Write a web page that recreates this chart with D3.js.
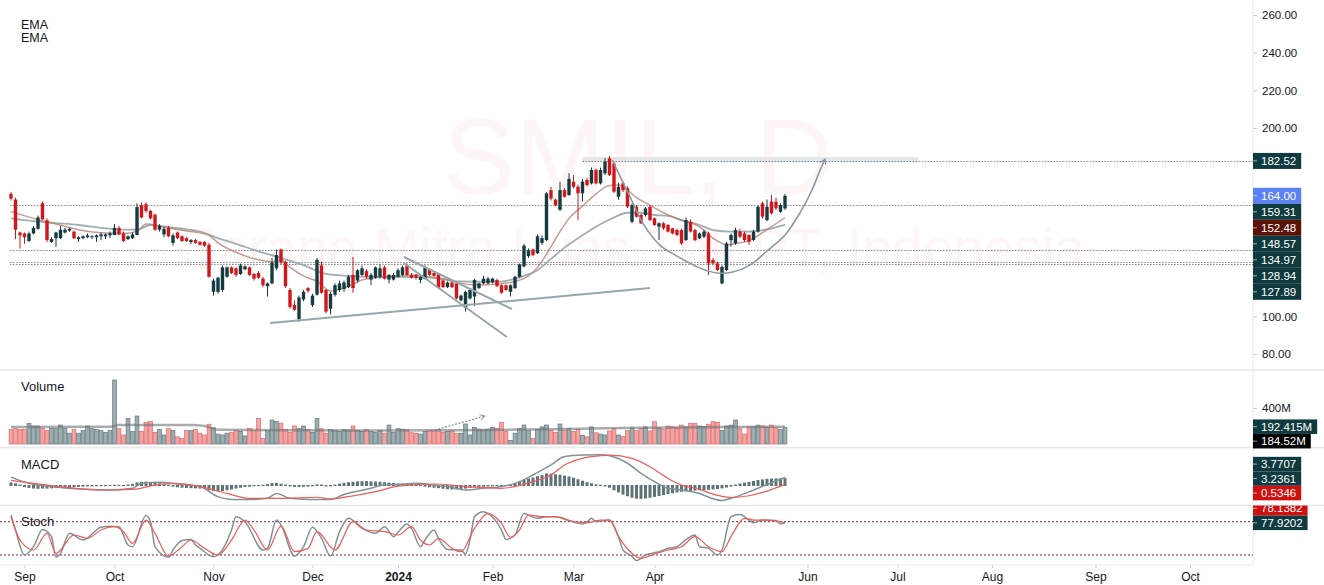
<!DOCTYPE html>
<html>
<head>
<meta charset="utf-8">
<script src="https://cdn.jsdelivr.net/npm/d3@7"></script>
<style>
body{margin:0;background:#fff;}
svg{display:block;font-family:"Liberation Sans",Arial,sans-serif;}
</style>
</head>
<body>
<div id="chart"></div>
<script>
// daily candles, bar index 0 = 29 Aug 2023
const opens = [165,162,144.5,144,140,144,146.5,160,151,139.5, 141.5,141.5,144.5,145.5,145,141,141.5,142,142,142,
 142.5,142.5,143,143.2,147,144,141,141.5,143.2,159, 159.5,156,154,146,143.5,147,139,144.5,142.5,141.5,
 139.5,140.5,139.5,139.5,138,113,113,114,121,126, 125.5,122.5,125,126,122.5,123,120,116,117.5,125.5,
 135.5,129,114,106,98.5,109,115,106,111.5,127, 114,104,111.5,114,114.5,115.5,122,119,122,124,
 119.5,120.5,121,126,119.5,119.5,121,122,127,122, 122,119.3,120,125,123,122.5,119,115.5,118,117.5,
 108.5,104.5,109.5,110.5,115,117.5,117.5,118,119.3,116.5, 116.5,113,115,121,126.5,132,135.5,133.5,139,140.5,
 167,162,156.5,167,164.4,171.5,168.8,165.3,172.4,170.6, 177.7,170.6,175.9,183.9,181.2,163.5,170.6,168,150.2,158.2,
 153.8,153.8,158.2,152,147.6,149.4,148.5,146.7,145.8,145.8, 140.5,150.2,145.8,141.4,142.3,144,129.9,128.1,117.5,124.6,
 140.5,138.7,145,144,143.2,140.5,145,160,151.1,160.9, 160.9,155.5,157.3]
const highs = [166,163,145,144.5,145,148,153.5,161,152,142, 145,148,147,147,145.5,142.5,143,144,143,143.5,
 144.5,144,145,149,148,145,143,144.5,160,160.5, 160.5,156.5,154.5,149,147.5,148,144,145,143,142,
 141,141,140,140,139,120,121,127,126.5,126.5, 126,128,127,126.5,123,124,121,118,131,135.5,
 136,129.5,115,108.5,111,114,115.5,112,131,129, 114.5,113,117.5,119,119,122,131.5,125,127,125,
 123,126.5,127.5,127,122.5,123,125.5,127,128,123, 122.5,121.5,127,125.5,123.5,123,119.5,118.5,118.5,118,
 111.5,113.5,114.5,120,118,121.5,121,120.5,120,117, 117,117,121.5,128,138.5,136,136,143.5,143,166,
 168.8,162.5,171.5,168,176,175,170,173,173.5,179, 178.5,179,184,185.1,182,171,171.5,169,160,159,
 154.5,158,159,152.5,150,150,149,147,146.5,146.5, 152.5,151.5,146.5,144.5,146,145,131,129,127,139.5,
 144,147,146.5,145,143.5,146,159,161,162,164.5, 163,160,165]
const lows = [161.5,141,136,138.5,139.5,143.5,146,151,139.5,139, 137,141,144,145,141,139.5,141,141.5,141,139.5,
 140.5,141,141.5,143,143,139.5,140.5,141,143,152, 155,151.5,145.5,145,142,142,137.5,141,139.5,139.5,
 138.5,138.5,137.5,137,120.5,111,112,113,120.5,122.5, 121,122,124.5,121.5,119,120,115.5,110.5,117,124.5,
 127.5,115,104,103,97,108,112.5,105,111,112, 101.5,101,110.5,113,113,115,112.5,118,121.5,120,
 116.5,120,120,119.5,117.5,119,120.5,121.5,121.5,120, 119.5,117.5,119.5,121.5,121,114.5,115,115,115,109,
 108,102.5,109,105.5,114.5,117,117,117.5,115.5,112, 113.5,110.5,114.5,120.5,126,131,132,133,138,140,
 161.5,158.5,156,163,164,168,151,161,169,170, 170,170,175,174.5,165.5,162,166,157.5,149.5,152.5,
 149,153,150.5,148,140.5,146,144.5,143.5,142.5,138, 140,144.5,140,141,141.5,121.9,127.5,124,117,124,
 137,138,141.5,139.5,138,140,144.5,152,150.5,154, 156.5,155,156.5]
const closes = [162.5,146,143,142,144,147,152.5,151.5,140.5,141, 144.5,146,146,146.5,141.5,142,142.5,143,142.5,143,
 143.5,143.5,144,147,143.5,140,142.5,143.5,158,152.5, 156,152,146,148,146.5,142.5,143,141.5,140,140,
 140.5,139,138,137.5,121,119,120.5,126,126,123, 122,127,126.5,122,120,120.5,116.5,117.5,128.5,132.5,
 128.5,116,105,103.5,110,113,113.5,111,130,112.5, 102.5,112,116.5,117.5,118,121,115,124.5,125.5,121,
 122,126,125.5,120,122,122,124.5,126,122,120.5, 120.5,121,126,122,121.5,115,115.5,118,115.5,109.5,
 111,113,114,119.3,117.5,120,120,120,116,112.5, 114,116.5,121,127.5,137.5,135,132.5,142.5,141.5,165.3,
 162.5,159,167,163.5,173,168.8,165.3,171.5,169.7,177.7, 170.6,177.7,182.1,175,166.2,168.8,167,158.2,159.1,152.9,
 149.4,157.3,151.1,148.5,149.4,146.7,145,144,143.2,138.7, 151.1,145,140.5,144,145,128.1,128.1,124.6,126.3,138.7,
 143.2,145.8,142.3,140.5,139.6,145,158.2,152.9,158.2,154.7, 157.3,159.1,164]
// volume in millions
const volumes = [160,170,160,165,230,200,200,175,150,175, 170,211,175,120,160,120,150,200,170,160,
 150,130,150,711,170,100,285,140,311,140, 240,250,130,160,100,170,150,80,60,150,
 150,160,120,100,220,180,110,100,120,130, 150,140,90,175,150,285,60,150,267,250,
 230,160,130,200,170,200,160,130,285,170, 120,160,150,140,160,155,200,150,140,160,
 140,130,150,120,211,130,170,165,160,125, 120,110,140,150,150,160,130,140,145,120,
 120,222,100,185,165,155,165,185,175,241, 140,40,120,170,211,150,60,160,190,211,
 150,130,222,150,170,140,160,95,80,190, 125,110,100,145,170,100,85,150,180,150,
 170,190,145,248,180,160,200,190,180,210, 190,230,230,200,195,220,250,240,150,200,
 210,267,170,110,190,190,210,200,185,210, 180,160,184.52]

const emaFastIdx = [0,5,10,15,20,25,28,30,33,36,40,44,46,50,55,58,60,62,65,68,71,75,78,82,86,90,93,97,100,104,108,112,115,117,120,122,124,127,130,133,135,137,139,142,145,149,153,156,159,161,164,168,172]
const emaFast = [155.6,152,149,146,144.4,144,145,149,148,146.5,145,143,139,134,130,129,129.9,126,121.5,118.5,113.5,116,119.3,120.7,121.4,121.9,121,119.6,117.5,116.6,117.2,118.5,121.5,126,137,145,152,158.5,165,169.5,169.7,167,163,159,155,151,147.6,141.5,138,138.7,140.2,146,152.48]
const emaSlowIdx = [0,5,10,15,20,25,28,31,34,38,42,46,50,55,60,65,70,75,80,86,93,100,104,108,111,114,117,120,123,126,130,134,137,140,143,146,149,153,156,160,164,168,172]
const emaSlow = [152,150.5,149.5,148.5,147,146,146,148.5,147.6,146.5,145,141.5,138.5,134.5,131,127.2,122.5,121.5,121,121,120.5,118.5,118.4,118.4,119.3,121.5,124.5,130.5,136.5,141.5,147.6,152.5,155,155,153.8,153.3,151.1,148.5,145.8,145,145,146.2,148.57]

const volMaIdx = [0,22,24,40,43,46,60,80,100,120,140,160,172]
const volMa = [190,192,210,210,200,158,152,150,152,165,180,190,192.415]

const macdIdx = [0,4,9,16,22,27,29,33,37,42,46,49,54,57,59,62,66,71,74,79,83,86,90,94,97,101,105,109,112,116,120,123,127,131,133,137,140,143,146,149,153,156,158,160,164,168,172]
const macdLine = [3.9,1.0,-0.5,-1.8,-2.1,-1.3,1.0,1.5,0.7,-0.5,-5.2,-6.5,-6.5,-6.0,-3.7,-6.0,-6.5,-6.5,-4.2,-1.8,0.2,0.5,1.0,0.2,-0.5,-2.1,-1.3,-0.5,1.0,4.9,9.6,13.5,14.3,14.4,13.9,10.4,5.7,1.8,-1.3,-2.1,-3.7,-6.2,-7.0,-6.0,-3.0,0.5,3.7707]
const signalIdx = [0,5,12,20,27,32,36,42,48,53,60,68,71,75,81,86,94,101,109,116,120,123,127,131,133,138,142,146,149,153,157,160,164,168,172]
const signalLine = [2.4,1.0,-0.8,-2.1,-1.8,0.2,1.0,-0.5,-3.7,-6.0,-6.0,-5.5,-6.3,-5.2,-2.9,-0.3,0.7,-0.5,-1.3,1.8,4.9,9.6,12.7,13.9,14.2,12.7,8.8,3.3,0.2,-1.8,-4.6,-5.6,-4.8,-2.6,0.5346]
const macdHist = [1.2,0.8,0.2,-0.5,-0.9,-1.2,-1.3,-1.2,-1.2,-1.1, -1.0,-0.9,-0.7,-0.6,-0.5,-0.4,-0.3,-0.2,-0.2,-0.1,
 -0.1,-0.1,0.0,0.1,0.1,0.0,0.2,0.5,1.2,1.5, 1.6,1.4,1.1,0.8,0.4,0.1,-0.3,-0.6,-0.8,-0.9,
 -1.0,-1.1,-1.2,-1.4,-2.0,-2.4,-2.6,-2.4,-2.0,-1.6, -1.2,-0.8,-0.5,-0.3,-0.1,0.0,0.1,0.4,0.9,1.0,
 0.6,0.2,-0.2,-0.4,-0.5,-0.4,-0.3,-0.1,0.3,0.2, -0.2,-0.2,0.2,0.6,1.0,1.3,1.5,1.7,1.8,1.8,
 1.7,1.6,1.5,1.3,1.1,0.9,0.7,0.6,0.5,0.4, 0.2,0.0,-0.3,-0.6,-0.8,-1.0,-1.3,-1.5,-1.6,-1.6,
 -1.5,-1.2,-0.9,-0.6,-0.4,-0.3,-0.2,-0.1,0.0,-0.1, 0.0,0.3,0.8,1.5,2.4,3.0,3.5,4.1,4.7,5.4,
 5.3,5.0,4.8,4.4,4.0,3.4,2.7,2.0,1.3,0.8, 0.3,0.1,-0.2,-0.8,-2.0,-3.0,-4.0,-4.8,-5.5,-5.9,
 -6.0,-5.8,-5.5,-5.1,-4.7,-4.2,-3.8,-3.4,-3.0,-2.7, -2.5,-2.3,-2.1,-2.0,-1.9,-1.8,-1.6,-1.4,-1.1,-0.7,
 -0.3,0.2,0.7,1.1,1.5,1.9,2.3,2.6,2.9,3.0, 3.1,3.2,3.2361]

const stochKIdx = [0,1,3,5,7,9,10,11,13,16,20,22,24,26,27,30,31,32,35,36,38,40,41,42,45,46,49,50,52,56,57,59,60,63,65,67,69,71,73,75,78,81,83,85,86,
 88,89,91,92,94,95,97,100,101,102,103,105,106,109,110,112,114,115,117,119,121,124,127,128,129,130,133,135,136,138,139,141,144,146,148,150,152,153,155,157,158,160,162,164,165,167,170,171,172]
const stochK = [92,65,20,35,66,53,16,23,59,47,70,72,71,38,35,91,80,35,16,29,46,48,38,32,17,20,65,89,80,29,32,83,74,18,35,70,50,18,62,86,68,59,71,53,61,
 76,68,35,47,65,50,30,29,22,47,89,98,95,65,48,56,95,92,86,89,89,82,76,80,86,80,83,53,29,18,10,20,26,32,35,48,56,35,32,20,29,89,93,83,78,83,82,76,77.9202]
const stochDIdx = [0,2,5,8,10,14,17,20,23,25,27,30,32,35,38,40,43,46,49,52,54,57,60,63,66,68,72,76,79,83,86,89,91,93,95,98,100,103,106,109,111,113,115,118,121,125,128,131,133,135,138,140,143,146,149,152,155,158,160,163,165,168,172]
const stochD = [89,47,29,59,23,56,50,65,71,62,41,83,59,18,35,47,32,20,47,83,65,29,72,26,32,62,29,80,65,62,56,71,47,38,50,32,26,68,95,77,52,65,92,89,89,80,78,83,83,53,23,14,22,29,35,53,35,26,53,86,83,83,78.1382]

const priceTicks = [80,100,200,220,240,260]
const volTicks = [400]
const monthTickIdx = [3,23,45,67,86,107,125,143,177,197,218,241,262]
const monthTickLabels = ["Sep","Oct","Nov","Dec","2024","Feb","Mar","Apr","Jun","Jul","Aug","Sep","Oct"]

// drawn levels and annotations (bar index, price)
const levelValues = [182.52,159.31,134.97,128.94,127.89]
const levelStartIdx = [127,-0.2,-0.2,-0.2,-0.2]
const zoneIdx = [127,201.6], zonePrice = [184.6,181.8]
const trendLines = [[[57.6,96.4],[142,115]],[[87.3,131.5],[111.3,103.9]],[[87.3,128.3],[110.2,89]]]
const cupIdx = [133.6,138.2,140.4,144.2,148,153.1,156.9,160.4,164.2,168,172,175.3,178,179.8,180.9]
const cupPrice = [183,160.2,149.5,137.8,132,125.6,123,123.5,127.2,134.7,143.2,154.8,167.1,177.7,183.5]
const volArrow = [[94.2,155.6],[105.3,311]]

// last value labels
const priceLabelValues = [182.52,164.00,159.31,152.48,148.57,134.97,128.94,127.89]
const priceLabelColors = ["#0f3a40","#5b80f2","#0f3a40","#5b1306","#0f3a40","#0f3a40","#0f3a40","#0f3a40"]
const volLabelValues = [192.415,184.52], volLabelTexts = ["192.415M","184.52M"], volLabelColors = ["#0f3a40","#000000"]
const macdLabelValues = [3.7707,3.2361,0.5346], macdLabelColors = ["#0f3a40","#0f3a40","#d10f0f"]
const stochLabelValues = [78.1382,77.9202], stochLabelColors = ["#d10f0f","#0f3a40"]

drawChart("#chart")

function drawChart(id){
    const canvas = createCanvas()
    const svg = addSvg(id,canvas)
    const sc = addScales(canvas)
    addFrame(svg,canvas)
    addWatermark(svg,canvas)
    drawPricePane(svg,sc,canvas)
    drawVolumePane(svg,sc,canvas)
    drawMacdPane(svg,sc,canvas)
    drawStochPane(svg,sc,canvas)
    addAxes(svg,sc,canvas)
    addLabels(svg,sc,canvas)
}

function createCanvas(){
    return {
        width:1324, height:585, axisX:1253,
        main:[0,370], vol:[370,447.5], macd:[447.5,505.5], stoch:[505.5,565],
        up:"#173b41", down:"#d3161c", teal:"#0f3a40", text:"#131722"
    }
}

function addSvg(id,canvas){
    const svg = d3.select(id).append("svg").attr("width",canvas.width).attr("height",canvas.height)
    const defs = svg.append("defs")
    ;["main","vol","macd","stoch"].forEach(k=>{
        defs.append("clipPath").attr("id","clip-"+k).append("rect")
          .attr("x",0).attr("y",canvas[k][0]).attr("width",canvas.axisX).attr("height",canvas[k][1]-canvas[k][0])
    })
    defs.append("clipPath").attr("id","clip-stochlab").append("rect")
      .attr("x",canvas.axisX).attr("y",canvas.stoch[0]).attr("width",80).attr("height",80)
    defs.append("marker").attr("id","arrow").attr("viewBox","0 0 10 10").attr("refX",8).attr("refY",5)
      .attr("markerWidth",7).attr("markerHeight",7).attr("orient","auto-start-reverse").attr("markerUnits","userSpaceOnUse")
      .append("path").attr("d","M1,1 L8,5 L1,9").attr("fill","none").attr("stroke","#7f9196").attr("stroke-width",1.4)
    return svg
}

function addScales(canvas){
    const x = d3.scaleLinear().domain([0,172]).range([11,785])
    const yPrice = d3.scaleLinear().domain([80,260]).range([354,15])
    const yVol = d3.scaleLinear().domain([0,400]).range([444,408])
    const yMacd = d3.scaleLinear().domain([0,10]).range([485.5,464.1])
    const yStoch = d3.scaleLinear().domain([20,80]).range([555,521.7])
    return {x,yPrice,yVol,yMacd,yStoch}
}

function addFrame(svg,canvas){
    const g = svg.append("g")
    ;[canvas.vol[0],canvas.macd[0],canvas.stoch[0]].forEach(y=>{
        g.append("line").attr("x1",0).attr("x2",canvas.width).attr("y1",y).attr("y2",y)
          .attr("stroke","#e6e8ec").attr("stroke-width",1.5)
    })
    g.append("line").attr("x1",0).attr("x2",canvas.axisX).attr("y1",canvas.stoch[1]).attr("y2",canvas.stoch[1])
      .attr("stroke","#eceef1").attr("stroke-width",1)
    g.append("line").attr("x1",canvas.axisX).attr("x2",canvas.axisX).attr("y1",0).attr("y2",canvas.stoch[1])
      .attr("stroke","#e6e8ec").attr("stroke-width",1)
}

function addWatermark(svg,canvas){
    const g = svg.append("g").attr("fill","#f23645").attr("fill-opacity",0.05).attr("text-anchor","middle")
    g.append("text").attr("x",638).attr("y",194).attr("font-size",108).text("SMIL, D")
    g.append("text").attr("x",633).attr("y",267).attr("font-size",55).text("Sarana Mitra Luas Tbk PT, Indonesia")
}

function drawPricePane(svg,sc,canvas){
    const {x,yPrice} = sc
    const g = svg.append("g").attr("clip-path","url(#clip-main)")
    const bars = d3.range(opens.length)
    const col = i => closes[i] >= opens[i] ? canvas.up : canvas.down

    // resistance zone + levels
    g.append("rect").attr("x",x(zoneIdx[0])).attr("width",x(zoneIdx[1])-x(zoneIdx[0]))
      .attr("y",yPrice(zonePrice[0])).attr("height",yPrice(zonePrice[1])-yPrice(zonePrice[0]))
      .attr("fill","#d8dddf").attr("opacity",0.7)
    g.selectAll(".lvl").data(levelValues).join("line")
      .attr("x1",(d,i)=>x(levelStartIdx[i])).attr("x2",canvas.axisX)
      .attr("y1",d=>Math.round(yPrice(d))+0.5).attr("y2",d=>Math.round(yPrice(d))+0.5)
      .attr("stroke","#7d8b8f").attr("stroke-dasharray","1.5,1.5").attr("stroke-width",1)

    // EMAs
    const line = d3.line().x(d=>x(d[0])).y(d=>yPrice(d[1])).curve(d3.curveMonotoneX)
    g.append("path").attr("d",line(d3.zip(emaSlowIdx,emaSlow))).attr("fill","none")
      .attr("stroke","#8ea1a5").attr("stroke-width",1.8).attr("opacity",0.85)
    g.append("path").attr("d",line(d3.zip(emaFastIdx,emaFast))).attr("fill","none")
      .attr("stroke","#b88278").attr("stroke-width",1.5).attr("opacity",0.8)

    // candles
    g.selectAll(".wick").data(bars).join("line")
      .attr("x1",i=>x(i)).attr("x2",i=>x(i)).attr("y1",i=>yPrice(highs[i])).attr("y2",i=>yPrice(lows[i]))
      .attr("stroke",col).attr("stroke-width",1)
    g.selectAll(".body").data(bars).join("rect")
      .attr("x",i=>x(i)-1.7).attr("width",3.4)
      .attr("y",i=>yPrice(Math.max(opens[i],closes[i])))
      .attr("height",i=>Math.max(1,Math.abs(yPrice(opens[i])-yPrice(closes[i]))))
      .attr("fill",col)

    // trend lines
    g.selectAll(".trend").data(trendLines).join("line")
      .attr("x1",d=>x(d[0][0])).attr("y1",d=>yPrice(d[0][1])).attr("x2",d=>x(d[1][0])).attr("y2",d=>yPrice(d[1][1]))
      .attr("stroke","#98a7aa").attr("stroke-width",2)
    const cup = d3.line().x(d=>x(d[0])).y(d=>yPrice(d[1])).curve(d3.curveCatmullRom)
    g.append("path").attr("d",cup(d3.zip(cupIdx,cupPrice))).attr("fill","none")
      .attr("stroke","#8a9a9e").attr("stroke-width",1.6).attr("marker-end","url(#arrow)")

    // legend
    const lg = svg.append("g").attr("fill",canvas.text).attr("font-size",12.5)
    lg.append("text").attr("x",21).attr("y",28.5).text("EMA")
    lg.append("text").attr("x",21).attr("y",42).text("EMA")
}

function drawVolumePane(svg,sc,canvas){
    const {x,yVol} = sc
    const g = svg.append("g").attr("clip-path","url(#clip-vol)")
    const bars = d3.range(volumes.length)
    const isUp = i => closes[i] >= opens[i]
    g.selectAll(".vb").data(bars).join("rect")
      .attr("x",i=>x(i)-1.9).attr("width",3.8)
      .attr("y",i=>yVol(volumes[i])).attr("height",i=>yVol(0)-yVol(volumes[i]))
      .attr("fill",i=>isUp(i)?"#9badb1":"#f2a4a4")
      .attr("stroke",i=>isUp(i)?"#66797d":"#e26a6a").attr("stroke-width",0.7)
    const line = d3.line().x(d=>x(d[0])).y(d=>yVol(d[1])).curve(d3.curveMonotoneX)
    g.append("path").attr("d",line(d3.zip(volMaIdx,volMa))).attr("fill","none")
      .attr("stroke","#6f7476").attr("stroke-width",2.5).attr("opacity",0.6)
    g.append("line").attr("x1",x(volArrow[0][0])).attr("y1",yVol(volArrow[0][1]))
      .attr("x2",x(volArrow[1][0])).attr("y2",yVol(volArrow[1][1]))
      .attr("stroke","#7f9196").attr("stroke-width",1.2).attr("stroke-dasharray","2,1.5")
      .attr("marker-end","url(#arrow)")
    svg.append("text").attr("x",21).attr("y",391).attr("font-size",13).attr("fill",canvas.text).text("Volume")
}

function drawMacdPane(svg,sc,canvas){
    const {x,yMacd} = sc
    const g = svg.append("g").attr("clip-path","url(#clip-macd)")
    const bars = d3.range(macdHist.length)
    g.selectAll(".hb").data(bars).join("rect")
      .attr("x",i=>x(i)-1.5).attr("width",3)
      .attr("y",i=>Math.min(yMacd(0),yMacd(macdHist[i]))-0.5)
      .attr("height",i=>Math.abs(yMacd(macdHist[i])-yMacd(0))+1)
      .attr("fill","#5f7477")
    const line = d3.line().x(d=>x(d[0])).y(d=>yMacd(d[1])).curve(d3.curveMonotoneX)
    g.append("path").attr("d",line(d3.zip(macdIdx,macdLine))).attr("fill","none")
      .attr("stroke","#7f9397").attr("stroke-width",1.5)
    g.append("path").attr("d",line(d3.zip(signalIdx,signalLine))).attr("fill","none")
      .attr("stroke","#ef5b5b").attr("stroke-width",1.2)
    svg.append("text").attr("x",21).attr("y",469).attr("font-size",13).attr("fill",canvas.text).text("MACD")
}

function drawStochPane(svg,sc,canvas){
    const {x,yStoch} = sc
    const g = svg.append("g").attr("clip-path","url(#clip-stoch)")
    ;[80,20].forEach(v=>{
        g.append("line").attr("x1",0).attr("x2",canvas.axisX).attr("y1",yStoch(v)).attr("y2",yStoch(v))
          .attr("stroke","#7b2346").attr("stroke-dasharray","2,2").attr("stroke-width",1)
    })
    const line = d3.line().x(d=>x(d[0])).y(d=>yStoch(d[1])).curve(d3.curveMonotoneX)
    g.append("path").attr("d",line(d3.zip(stochKIdx,stochK))).attr("fill","none")
      .attr("stroke","#7f9397").attr("stroke-width",1.5)
    g.append("path").attr("d",line(d3.zip(stochDIdx,stochD))).attr("fill","none")
      .attr("stroke","#ef5b5b").attr("stroke-width",1.2)
    svg.append("text").attr("x",21).attr("y",526).attr("font-size",13).attr("fill",canvas.text).text("Stoch")
}

function addAxes(svg,sc,canvas){
    const styleAxis = g => {
        g.select(".domain").remove()
        g.selectAll(".tick line").attr("stroke","#c9ccd3")
        g.selectAll(".tick text").attr("fill",canvas.text).attr("font-family","Liberation Sans, Arial, sans-serif")
    }
    svg.append("g").attr("transform",`translate(${canvas.axisX},0)`)
      .call(d3.axisRight(sc.yPrice).tickValues(priceTicks).tickFormat(d3.format(".2f")).tickSize(4).tickPadding(5))
      .call(styleAxis).selectAll("text").attr("font-size",11.5)
    svg.append("g").attr("transform",`translate(${canvas.axisX},0)`)
      .call(d3.axisRight(sc.yVol).tickValues(volTicks).tickFormat(d=>d+"M").tickSize(4).tickPadding(5))
      .call(styleAxis).selectAll("text").attr("font-size",11.5)
    const xa = svg.append("g").attr("transform",`translate(0,${canvas.stoch[1]})`)
      .call(d3.axisBottom(sc.x).tickValues(monthTickIdx).tickFormat((d,i)=>monthTickLabels[i]).tickSize(3).tickPadding(4))
      .call(styleAxis)
    xa.selectAll("text").attr("font-size",12)
      .attr("font-weight",(d,i)=>monthTickLabels[i]==="2024"?"bold":"normal")
}

function placeLabels(values,anchor,scale,h){
    const items = values.map((v,i)=>({i,v,ny:scale(v)}))
    const sorted = items.slice().sort((a,b)=>a.ny-b.ny)
    const a = sorted.findIndex(d=>d.i===anchor)
    sorted[a].y = sorted[a].ny
    for(let k=a-1;k>=0;k--) sorted[k].y = Math.min(sorted[k].ny, sorted[k+1].y-h)
    for(let k=a+1;k<sorted.length;k++) sorted[k].y = Math.max(sorted[k].ny, sorted[k-1].y+h)
    return items
}

function drawLabelSet(svg,canvas,items,texts,colors,h,clip){
    const g = svg.append("g")
    if(clip) g.attr("clip-path",clip)
    items.forEach(d=>{
        const r = g.append("rect").attr("x",canvas.axisX).attr("y",d.y-h/2).attr("height",h).attr("fill",colors[d.i])
        const t = g.append("text").attr("x",canvas.axisX+8).attr("y",d.y+4).attr("font-size",11.5)
          .attr("fill","#ffffff").text(texts[d.i])
        r.attr("width",t.node().getComputedTextLength()+13)
        g.append("line").attr("x1",canvas.axisX).attr("x2",canvas.axisX+4).attr("y1",d.y).attr("y2",d.y)
          .attr("stroke","#ffffff").attr("stroke-opacity",0.6)
    })
}

function addLabels(svg,sc,canvas){
    const p = placeLabels(priceLabelValues,1,sc.yPrice,16)
    drawLabelSet(svg,canvas,p,priceLabelValues.map(v=>v.toFixed(2)),priceLabelColors,16)
    const v = placeLabels(volLabelValues,0,sc.yVol,14.5)
    drawLabelSet(svg,canvas,v,volLabelTexts,volLabelColors,14.5)
    const m = placeLabels(macdLabelValues,1,sc.yMacd,14.5)
    drawLabelSet(svg,canvas,m,macdLabelValues.map(v=>v.toFixed(4)),macdLabelColors,14.5)
    const s = placeLabels(stochLabelValues,1,sc.yStoch,14.5)
    drawLabelSet(svg,canvas,s,stochLabelValues.map(v=>v.toFixed(4)),stochLabelColors,14.5,"url(#clip-stochlab)")
}
</script>
</body>
</html>
